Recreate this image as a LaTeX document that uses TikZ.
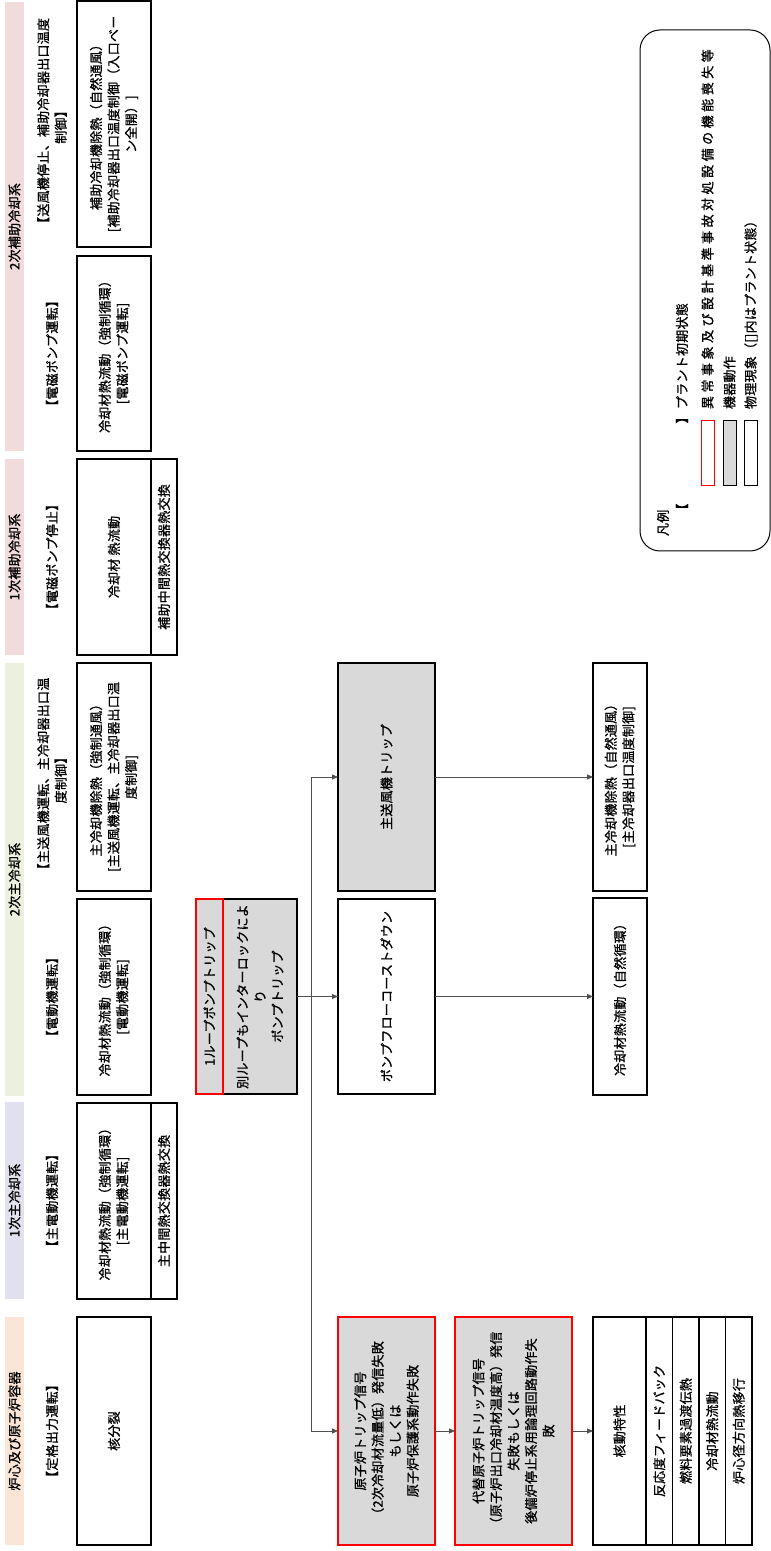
\documentclass[tikz,border=0pt]{standalone}
\usepackage{fontspec}
\setmainfont{Noto Sans CJK JP}[LetterSpace=2, FakeBold=1]
\usetikzlibrary{arrows.meta}

\definecolor{cCore}{HTML}{FBE5D6}
\definecolor{cPri}{HTML}{E1E0EE}
\definecolor{cSec}{HTML}{EBF1DE}
\definecolor{cAux}{HTML}{F2DCDB}
\definecolor{cAct}{HTML}{D9D9D9}
\definecolor{cLine}{HTML}{505050}

\tikzset{
  txt/.style={font=\fontsize{13}{17.5}\selectfont, inner sep=1pt, outer sep=0pt, align=center},
  band/.style={txt, fill=#1, draw=none, minimum height=19},
  lbl/.style={txt},
  physbox/.style={txt, draw=black, line width=1.2pt, fill=white},
  actbox/.style={txt, draw=black, line width=1.2pt, fill=cAct},
  failbox/.style={txt, draw=red, line width=2pt, fill=cAct},
  link/.style={draw=cLine, line width=0.9pt},
  arr/.style={link, -{Triangle[length=6pt,width=5pt]}},
  keybox/.style={minimum width=65, minimum height=13, inner sep=0pt, outer sep=0pt}
}

\begin{document}
\begin{tikzpicture}[x=1pt, y=1pt, rotate=90, transform shape]
\path[use as bounding box] (0,0) -- (1551,0) -- (1551,-771) -- (0,-771) -- cycle;

% system headings
\node[band=cCore, minimum width=228] (bCore) at (120,-14.5) {炉心及び原子炉容器};
\node[band=cPri, minimum width=197] (bPri) at (350.5,-14.5) {1次主冷却系};
\node[band=cSec, minimum width=433] (bSec) at (671.5,-14.5) {2次主冷却系};
\node[band=cAux, minimum width=196] (bAuxA) at (994,-14.5) {1次補助冷却系};
\node[band=cAux, minimum width=449] (bAuxB) at (1324.5,-14.5) {2次補助冷却系};

% initial plant states
\node[lbl] (lCore) at (120,-52) {【定格出力運転】};
\node[lbl] (lPri) at (350.5,-52) {【主電動機運転】};
\node[lbl] (lSec) at (554,-52) {【電動機運転】};
\node[lbl] (lCooler) at (774,-52) {【主送風機運転、主冷却器出口温\\度制御】};
\node[lbl] (lAuxA) at (994,-52) {【電磁ポンプ停止】};
\node[lbl] (lAuxB) at (1197.5,-52) {【電磁ポンプ運転】};
\node[lbl] (lAuxCooler) at (1427,-52) {【送風機停止、補助冷却器出口温度\\制御】};

% physical phenomena in the initial state
\node[physbox, minimum width=228, minimum height=74] (sCore) at (120,-114) {核分裂};
\node[physbox, minimum width=196, minimum height=74] (sPri) at (350,-114) {冷却材熱流動（強制循環）\\{[}主電動機運転{]}};
\node[physbox, minimum width=196, minimum height=26] (hxPri) at (350,-164) {主中間熱交換器熱交換};
\node[physbox, minimum width=196, minimum height=74] (sSec) at (554,-114) {冷却材熱流動（強制循環）\\{[}電動機運転{]}};
\node[physbox, minimum width=228, minimum height=74] (sCooler) at (774,-114) {主冷却機除熱（強制通風）\\{[}主送風機運転、主冷却器出口温\\度制御{]}};
\node[physbox, minimum width=196, minimum height=74] (sAuxA) at (994,-114) {冷却材 熱流動};
\node[physbox, minimum width=196, minimum height=26] (hxAux) at (994,-164) {補助中間熱交換器熱交換};
\node[physbox, minimum width=195, minimum height=74] (sAuxB) at (1197.5,-114) {冷却材熱流動（強制循環）\\{[}電磁ポンプ運転{]}};
\node[physbox, minimum width=246, minimum height=74] (sAuxCooler) at (1427,-114) {補助冷却機除熱（自然通風）\\{[}補助冷却器出口温度制御（入口ベー\\ン全開）{]}};

% initiating event
\node[actbox, minimum width=195, minimum height=74] (tripB) at (554.5,-260) {別ループもインターロックによ\\り\\ポンプトリップ};
\node[failbox, minimum width=195, minimum height=27] (tripA) at (554.5,-209.5) {1ループポンプトリップ};

% event sequence
\node[failbox, minimum width=228, minimum height=97] (rxSig) at (120,-386.5) {原子炉トリップ信号\\（2次冷却材流量低）発信失敗\\もしくは\\原子炉保護系動作失敗};
\node[physbox, minimum width=195, minimum height=97] (coast) at (554.5,-386.5) {ポンプフローコーストダウン};
\node[actbox, minimum width=228, minimum height=97] (fanTrip) at (774,-386.5) {主送風機トリップ};
\node[failbox, minimum width=228, minimum height=117] (altSig) at (120,-513.5) {代替原子炉トリップ信号\\（原子炉出口冷却材温度高）発信\\失敗もしくは\\後備炉停止系用論理回路動作失\\敗};

% resulting phenomena
\node[physbox, minimum width=228, minimum height=53] (kin) at (120,-619.5) {核動特性};
\node[physbox, minimum width=228, minimum height=26.5] (kinA) at (120,-659.25) {反応度フィードバック};
\node[physbox, minimum width=228, minimum height=26.5] (kinB) at (120,-685.75) {燃料要素過渡伝熱};
\node[physbox, minimum width=228, minimum height=26.5] (kinC) at (120,-712.25) {冷却材熱流動};
\node[physbox, minimum width=228, minimum height=26.5] (kinD) at (120,-738.75) {炉心径方向熱移行};
\node[physbox, minimum width=197, minimum height=54] (natCirc) at (554.5,-620) {冷却材熱流動（自然循環）};
\node[physbox, minimum width=228, minimum height=54] (natCool) at (774,-620) {主冷却機除熱（自然通風）\\{[}主冷却器出口温度制御{]}};

% connectors
\coordinate (jn) at (554.5,-311);
\draw[link] (tripB.south) -- (jn);
\draw[arr] (jn) -- (coast.north);
\draw[arr] (jn) -| (rxSig.north);
\draw[arr] (jn) -| (fanTrip.north);
\draw[arr] (rxSig.south) -- (altSig.north);
\draw[arr] (altSig.south) -- (kin.north);
\draw[arr] (coast.south) -- (natCirc.north);
\draw[arr] (fanTrip.south) -- (natCool.north);

% legend
\node[draw=black, line width=1pt, rounded corners=20, minimum width=521, minimum height=130, inner sep=0pt] (legend) at (1260.5,-705) {};
\node[txt, anchor=west] (lgTitle) at (1014,-663) {凡例};
\node[txt] (lgOpen) at (1041,-682) {【};
\node[txt] (lgClose) at (1134,-682) {】};
\node[txt, anchor=west] (lgInit) at (1141,-682) {プラント初期状態};
\node[keybox, draw=red, line width=0.8pt, fill=white] (lgFail) at (1098.5,-707.5) {};
\node[txt, anchor=west] (lgFailTxt) at (1141,-707.5) {\addfontfeatures{LetterSpace=27}異常事象及び設計基準事故対処設備の機能喪失等};
\node[keybox, draw=black, line width=0.8pt, fill=cAct] (lgAct) at (1098.5,-729.5) {};
\node[txt, anchor=west] (lgActTxt) at (1141,-729.5) {機器動作};
\node[keybox, draw=black, line width=0.8pt, fill=white] (lgPhys) at (1098.5,-751) {};
\node[txt, anchor=west] (lgPhysTxt) at (1141,-751) {物理現象（[]内はプラント状態）};
\end{tikzpicture}
\end{document}
